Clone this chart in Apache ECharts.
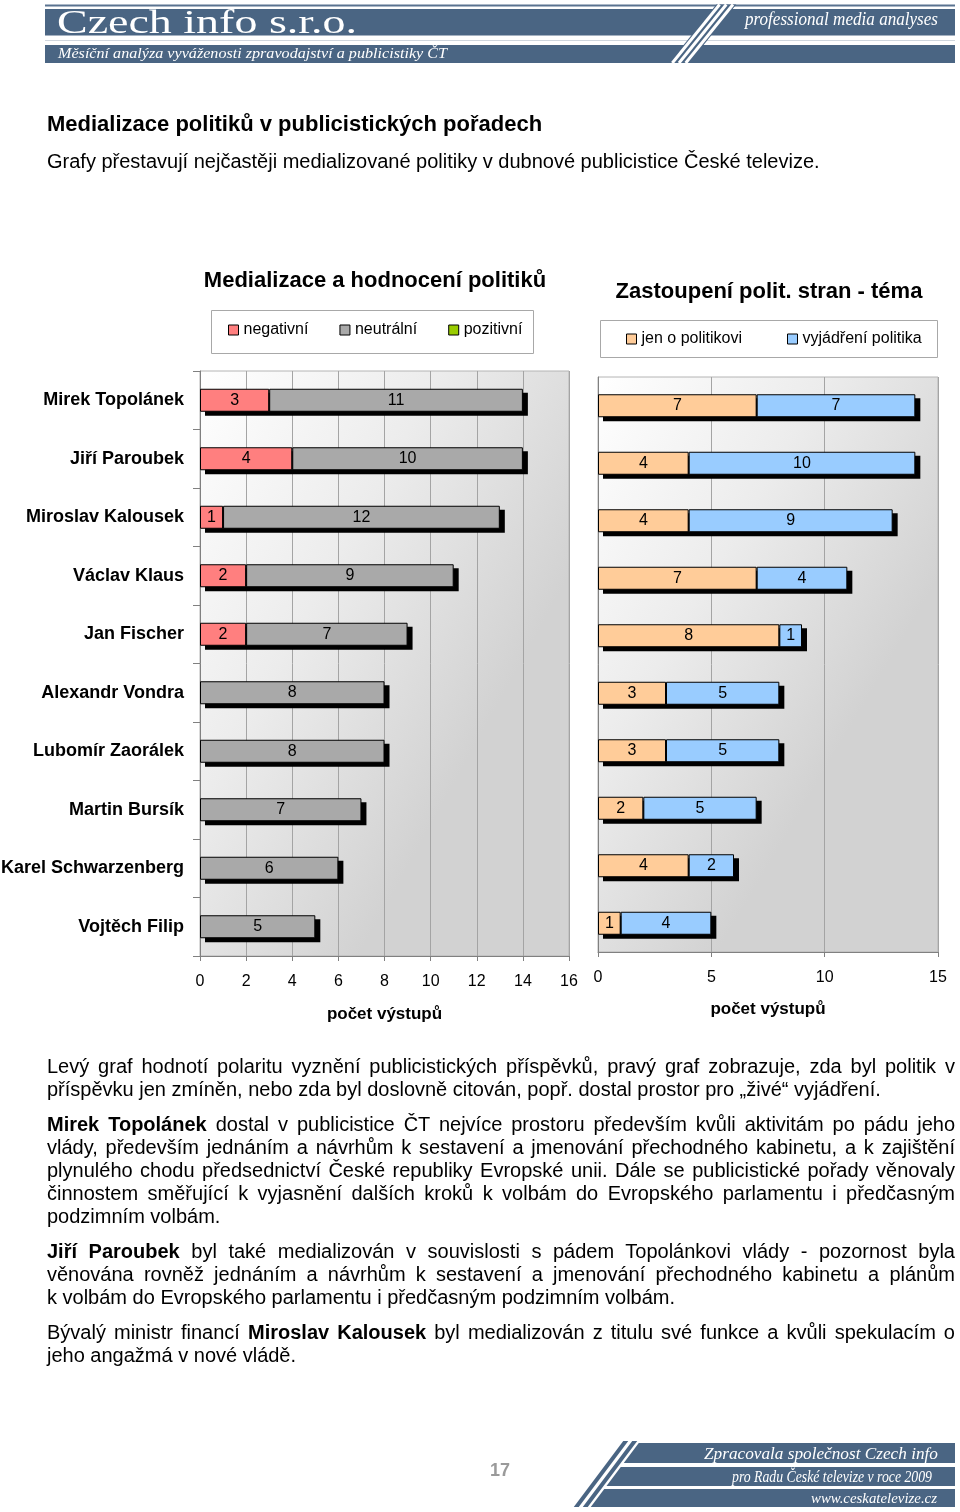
<!DOCTYPE html>
<html>
<head>
<meta charset="utf-8">
<script src="https://cdn.jsdelivr.net/npm/echarts/dist/echarts.min.js"></script>
<style>
  html, body { margin:0; padding:0; background:#fff; }
  body { width:960px; height:1512px; position:relative; overflow:hidden; font-family:"Liberation Sans", Arial, sans-serif; color:#000; }
  #chart { position:absolute; left:0; top:0; width:960px; height:1512px; }
  #deco { position:absolute; left:0; top:0; pointer-events:none; }
  .h1 { position:absolute; left:47px; top:112px; font-size:22px; font-weight:bold; line-height:24px; white-space:nowrap; }
  .h2 { position:absolute; left:47px; top:149px; font-size:20px; line-height:24px; white-space:nowrap; }
  #text { position:absolute; left:47px; top:1054.5px; width:908px; font-size:20px; line-height:23px; }
  #text p { margin:0 0 12px 0; }
  #text .l { display:block; text-align:justify; text-align-last:justify; white-space:nowrap; }
  #text .e { text-align-last:left; }
  .pg { position:absolute; left:490px; top:1459px; font-size:18px; font-weight:bold; color:#9a9a9a; line-height:22px; }
</style>
</head>
<body>
<div id="chart"></div>
<svg id="deco" width="960" height="1512" viewBox="0 0 960 1512">
  <!-- header -->
  <rect x="45" y="4.5" width="910" height="2" fill="#5a7390"/>
  <rect x="45" y="9" width="910" height="26.5" fill="#4a6583"/>
  <rect x="45" y="40" width="910" height="1" fill="#cfd6de"/>
  <rect x="45" y="45" width="910" height="18" fill="#4a6583"/>
  <polygon points="716.3,4.5 736.3,4.5 689,63 669,63" fill="#4a6583"/>
  <line x1="719.6" y1="4.5" x2="672.3" y2="63" stroke="#fff" stroke-width="3"/>
  <line x1="726.3" y1="4.5" x2="679" y2="63" stroke="#fff" stroke-width="3"/>
  <line x1="733" y1="4.5" x2="685.7" y2="63" stroke="#fff" stroke-width="3"/>
  <text x="57" y="33" font-family="'Liberation Serif','DejaVu Serif',serif" font-size="33" fill="#fff" textLength="300" lengthAdjust="spacingAndGlyphs">Czech info s.r.o.</text>
  <text x="745" y="25" font-family="'Liberation Serif','DejaVu Serif',serif" font-style="italic" font-size="18" fill="#fff" textLength="193" lengthAdjust="spacingAndGlyphs">professional media analyses</text>
  <text x="58" y="58" font-family="'Liberation Serif','DejaVu Serif',serif" font-style="italic" font-size="15" fill="#fff" textLength="389" lengthAdjust="spacingAndGlyphs">Měsíční analýza vyváženosti zpravodajství a publicistiky ČT</text>
  <!-- footer -->
  <polygon points="638.75,1443 955,1443 955,1463 623.75,1463" fill="#4a6583"/>
  <polygon points="620.75,1467 955,1467 955,1486 606.5,1486" fill="#4a6583"/>
  <polygon points="604.25,1489 955,1489 955,1507 590.75,1507" fill="#4a6583"/>
  <polygon points="623.25,1441 628.25,1441 578.75,1507 573.75,1507" fill="#4a6583"/>
  <polygon points="632.25,1441 637.25,1441 587.75,1507 582.75,1507" fill="#4a6583"/>
  <text x="704" y="1459" font-family="'Liberation Serif','DejaVu Serif',serif" font-style="italic" font-size="17" fill="#fff" textLength="234" lengthAdjust="spacingAndGlyphs">Zpracovala společnost Czech info</text>
  <text x="732" y="1482" font-family="'Liberation Serif','DejaVu Serif',serif" font-style="italic" font-size="16" fill="#fff" textLength="200" lengthAdjust="spacingAndGlyphs">pro Radu České televize v roce 2009</text>
  <text x="811" y="1503" font-family="'Liberation Serif','DejaVu Serif',serif" font-style="italic" font-size="15" fill="#fff" textLength="126" lengthAdjust="spacingAndGlyphs">www.ceskatelevize.cz</text>
</svg>

<div class="h1">Medializace politiků v publicistických pořadech</div>
<div class="h2">Grafy přestavují nejčastěji medializované politiky v dubnové publicistice České televize.</div>

<div id="text">
  <p>
    <span class="l">Levý graf hodnotí polaritu vyznění publicistických příspěvků, pravý graf zobrazuje, zda byl politik v</span>
    <span class="l e">příspěvku jen zmíněn, nebo zda byl doslovně citován, popř. dostal prostor pro „živé“ vyjádření.</span>
  </p>
  <p>
    <span class="l"><b>Mirek Topolánek</b> dostal v&nbsp;publicistice ČT nejvíce prostoru především kvůli aktivitám po pádu jeho</span>
    <span class="l">vlády, především jednáním a návrhům k&nbsp;sestavení a jmenování přechodného kabinetu, a k&nbsp;zajištění</span>
    <span class="l">plynulého chodu předsednictví České republiky Evropské unii. Dále se publicistické pořady věnovaly</span>
    <span class="l">činnostem směřující k&nbsp;vyjasnění dalších kroků k&nbsp;volbám do Evropského parlamentu i předčasným</span>
    <span class="l e">podzimním volbám.</span>
  </p>
  <p>
    <span class="l"><b>Jiří Paroubek</b> byl také medializován v&nbsp;souvislosti s&nbsp;pádem Topolánkovi vlády - pozornost byla</span>
    <span class="l">věnována rovněž jednáním a návrhům k&nbsp;sestavení a jmenování přechodného kabinetu a plánům</span>
    <span class="l e">k&nbsp;volbám do Evropského parlamentu i předčasným podzimním volbám.</span>
  </p>
  <p>
    <span class="l">Bývalý ministr financí <b>Miroslav Kalousek</b> byl medializován z titulu své funkce a kvůli spekulacím o</span>
    <span class="l e">jeho angažmá v nové vládě.</span>
  </p>
</div>

<div class="pg">17</div>

<script>
// ---- data ----
const politicians = ['Mirek Topolánek','Jiří Paroubek','Miroslav Kalousek','Václav Klaus','Jan Fischer','Alexandr Vondra','Lubomír Zaorálek','Martin Bursík','Karel Schwarzenberg','Vojtěch Filip'];
const negativni = [3, 4, 1, 2, 2, null, null, null, null, null];
const neutralni = [11, 10, 12, 9, 7, 8, 8, 7, 6, 5];
const pozitivni = [null, null, null, null, null, null, null, null, null, null];
const jenOPolitikovi = [7, 4, 4, 7, 8, 3, 3, 2, 4, 1];
const vyjadreniPolitika = [7, 10, 9, 4, 1, 5, 5, 5, 2, 4];
const leftAxisTicks = [0, 2, 4, 6, 8, 10, 12, 14, 16];
const rightAxisTicks = [0, 5, 10, 15];
const leftTitle = 'Medializace a hodnocení politiků';
const rightTitle = 'Zastoupení polit. stran - téma';
const axisName = 'počet výstupů';

// stacked totals (used only for the drop-shadow bars behind each stack)
const sumRows = (...arrs) => arrs[0].map((_, i) => arrs.reduce((s, a) => s + (a[i] || 0), 0));
const leftTotals = sumRows(negativni, neutralni, pozitivni);
const rightTotals = sumRows(jenOPolitikovi, vyjadreniPolitika);

// ---- chart ----
const FF = '"Liberation Sans", Arial, sans-serif';
const chart = echarts.init(document.getElementById('chart'), null, {renderer:'canvas'});

const LG = {left:200, top:371, width:369, height:585};
const RG = {left:598, top:377, width:340, height:575};
const SH = {dx:5, dy:4};

function barSeries(name, data, color, stack, idx) {
  return {
    type:'bar', name, data, stack, xAxisIndex:idx, yAxisIndex:idx, barWidth:23, z:3,
    itemStyle:{color, borderColor:'#000', borderWidth:1},
    label:{show:true, position:'inside', color:'#000', fontSize:16, fontFamily:FF},
    emphasis:{disabled:true}
  };
}
function shadowSeries(data, idx) {
  return {
    type:'bar', name:'_shadow' + idx, data, xAxisIndex:idx, yAxisIndex:idx, barWidth:23, z:1, silent:true,
    itemStyle:{color:'#000'}, label:{show:false}, emphasis:{disabled:true}, tooltip:{show:false}
  };
}
function bg() {
  return new echarts.graphic.LinearGradient(0, 0, 1, 0.35, [
    {offset:0, color:'#ffffff'}, {offset:0.5, color:'#ececec'}, {offset:1, color:'#d2d2d2'}
  ]);
}
function xAxis(idx, ticks, gap) {
  return {
    type:'value', gridIndex:idx, min:ticks[0], max:ticks[ticks.length-1], interval:ticks[1]-ticks[0],
    splitLine:{show:true, lineStyle:{color:'#a4a4a4', width:1}},
    axisLine:{show:true, lineStyle:{color:'#808080'}},
    axisTick:{show:true, length:5, lineStyle:{color:'#808080'}},
    axisLabel:{fontSize:16, color:'#000', margin:18, fontFamily:FF},
    name:axisName, nameLocation:'middle', nameGap:gap,
    nameTextStyle:{fontWeight:'bold', fontSize:17, color:'#000', fontFamily:FF}
  };
}
function hiddenX(idx, ticks) {
  return {type:'value', gridIndex:idx, min:ticks[0], max:ticks[ticks.length-1], interval:ticks[1]-ticks[0], show:false, splitLine:{show:false}};
}
function yAxis(idx, labels) {
  return {
    type:'category', gridIndex:idx, data:politicians, inverse:true,
    axisLine:{show:true, lineStyle:{color:'#808080'}},
    axisTick:{show:labels, length:7, lineStyle:{color:'#808080'}},
    axisLabel:{show:labels, color:'#000', fontWeight:'bold', fontSize:18, margin:16, fontFamily:FF}
  };
}
function hiddenY(idx) {
  return {type:'category', gridIndex:idx, data:politicians, inverse:true, show:false};
}
const legendItemStyle = {borderColor:'#000', borderWidth:1};
const gridBase = {outerBoundsMode:'none', containLabel:false};

chart.setOption({
  animation:false,
  textStyle:{fontFamily:FF},
  grid:[
    Object.assign({}, gridBase, {show:true, borderColor:'#b4b4b4', borderWidth:1, backgroundColor:bg()}, LG),
    Object.assign({}, gridBase, {show:true, borderColor:'#b4b4b4', borderWidth:1, backgroundColor:bg()}, RG),
    Object.assign({}, gridBase, {left:LG.left + SH.dx, top:LG.top + SH.dy, width:LG.width, height:LG.height, show:false}),
    Object.assign({}, gridBase, {left:RG.left + SH.dx, top:RG.top + SH.dy, width:RG.width, height:RG.height, show:false})
  ],
  xAxis:[xAxis(0, leftAxisTicks, 50), xAxis(1, rightAxisTicks, 49), hiddenX(2, leftAxisTicks), hiddenX(3, rightAxisTicks)],
  yAxis:[yAxis(0, true), yAxis(1, false), hiddenY(2), hiddenY(3)],
  legend:[
    {data:['negativní','neutrální','pozitivní'], left:228, top:322, padding:0, itemWidth:10, itemHeight:10, itemGap:31, icon:'rect', selectedMode:false,
     textStyle:{fontSize:16, color:'#000', fontFamily:FF}, itemStyle:legendItemStyle},
    {data:['jen o politikovi','vyjádření politika'], left:626, top:331, padding:0, itemWidth:10, itemHeight:10, itemGap:45, icon:'rect', selectedMode:false,
     textStyle:{fontSize:16, color:'#000', fontFamily:FF}, itemStyle:legendItemStyle}
  ],
  graphic:[
    {type:'rect', shape:{x:211.5, y:310.5, width:322, height:43}, style:{fill:'transparent', stroke:'#a8a8a8', lineWidth:1}, silent:true},
    {type:'rect', shape:{x:600.5, y:320.5, width:337, height:37}, style:{fill:'transparent', stroke:'#a8a8a8', lineWidth:1}, silent:true},
    {type:'text', x:375, y:281, silent:true, style:{text:leftTitle, font:'bold 22px ' + FF, fill:'#000', align:'center', verticalAlign:'middle'}},
    {type:'text', x:769, y:292, silent:true, style:{text:rightTitle, font:'bold 22px ' + FF, fill:'#000', align:'center', verticalAlign:'middle'}}
  ],
  series:[
    shadowSeries(leftTotals, 2),
    shadowSeries(rightTotals, 3),
    barSeries('negativní', negativni, '#ff7f7f', 'L', 0),
    barSeries('neutrální', neutralni, '#a9a9a9', 'L', 0),
    barSeries('pozitivní', pozitivni, '#99cc00', 'L', 0),
    barSeries('jen o politikovi', jenOPolitikovi, '#ffcc99', 'R', 1),
    barSeries('vyjádření politika', vyjadreniPolitika, '#99ccff', 'R', 1)
  ]
});
</script>
</body>
</html>
